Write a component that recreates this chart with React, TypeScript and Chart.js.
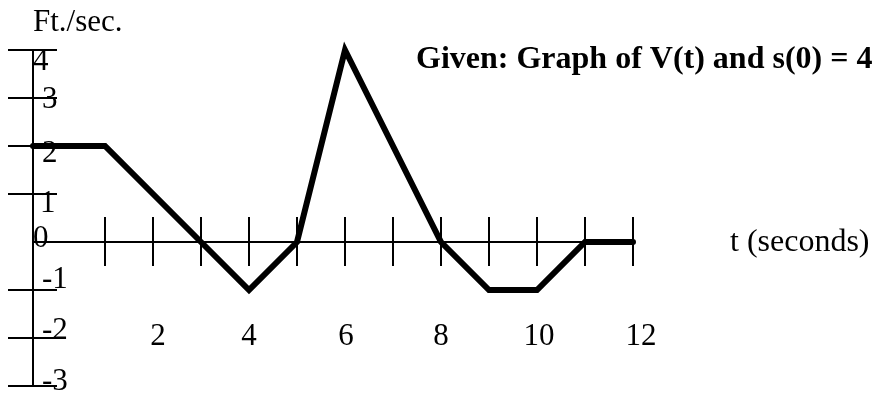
import React, { useEffect, useRef } from "react";
import { Chart, registerables } from "chart.js";

Chart.register(...registerables);

// ---- data ----
const T_VALUES = [-0.5, 1, 3, 4, 5, 6, 8, 9, 10, 11, 12];
const V_VALUES = [2, 2, 0, -1, 0, 4, 0, -1, -1, 0, 0];

const X_TICK_VALUES = [1, 2, 3, 4, 5, 6, 7, 8, 9, 10, 11, 12];
const X_LABEL_VALUES = [2, 4, 6, 8, 10, 12];
const X_LABEL_TEXTS = ["2", "4", "6", "8", "10", "12"];

const Y_TICK_VALUES = [4, 3, 2, 1, -1, -2, -3];
const Y_LABEL_VALUES = [4, 3, 2, 1, 0, -1, -2, -3];
const Y_LABEL_TEXTS = ["4", "3", "2", "1", "0", "-1", "-2", "-3"];

const TITLE_TEXT = "Given: Graph of V(t) and s(0) = 4";
const Y_AXIS_TITLE = "Ft./sec.";
const X_AXIS_TITLE = "t (seconds)";

// ---- styling (label nudges as in the hand-set original) ----
const FONT = '"Liberation Serif", "Times New Roman", serif';
const Y_LABEL_NUDGE = [
  [0, 9],
  [9, -1],
  [9, 5],
  [7, 7],
  [0, -6],
  [9, -13],
  [9, -10],
  [9, -7],
];
const X_LABEL_NUDGE = [5, 0, 1, 0, 2, 8];

const axesPlugin = {
  id: "handAxes",
  beforeDatasetsDraw(chart: any) {
    const ctx = chart.ctx as CanvasRenderingContext2D;
    const xs = chart.scales.x;
    const ys = chart.scales.y;
    const ax = xs.getPixelForValue(xs.min);
    const y0 = ys.getPixelForValue(0);
    const yTop = ys.getPixelForValue(Math.max(...Y_TICK_VALUES));
    const yBot = ys.getPixelForValue(Math.min(...Y_TICK_VALUES));
    const xEnd = xs.getPixelForValue(Math.max(...X_TICK_VALUES));
    ctx.save();
    ctx.strokeStyle = "#000";
    ctx.lineWidth = 2;
    ctx.lineCap = "butt";
    ctx.beginPath();
    // y axis
    ctx.moveTo(ax, yTop);
    ctx.lineTo(ax, yBot);
    // x axis
    ctx.moveTo(ax, y0);
    ctx.lineTo(xEnd, y0);
    // y ticks (crossing the axis)
    for (const v of Y_TICK_VALUES) {
      const py = ys.getPixelForValue(v);
      ctx.moveTo(ax - 25, py);
      ctx.lineTo(ax + 24, py);
    }
    // x ticks (crossing the axis)
    for (const t of X_TICK_VALUES) {
      const px = xs.getPixelForValue(t);
      ctx.moveTo(px, y0 - 25);
      ctx.lineTo(px, y0 + 24);
    }
    ctx.stroke();

    ctx.fillStyle = "#000";
    ctx.textBaseline = "alphabetic";
    ctx.font = `31px ${FONT}`;
    // y labels
    ctx.textAlign = "left";
    Y_LABEL_VALUES.forEach((v, i) => {
      const py = ys.getPixelForValue(v);
      const [dx, dy] = Y_LABEL_NUDGE[i];
      ctx.fillText(Y_LABEL_TEXTS[i], ax + dx, py + dy + 10.5);
    });
    // x labels
    ctx.textAlign = "center";
    X_LABEL_VALUES.forEach((t, i) => {
      const px = xs.getPixelForValue(t);
      ctx.fillText(X_LABEL_TEXTS[i], px + X_LABEL_NUDGE[i], y0 + 103);
    });
    // axis titles
    ctx.textAlign = "left";
    ctx.fillText(Y_AXIS_TITLE, ax, 31);
    ctx.font = `32px ${FONT}`;
    ctx.fillText(X_AXIS_TITLE, 730, y0 + 9);
    ctx.font = `bold 32px ${FONT}`;
    ctx.fillText(TITLE_TEXT, 416, 68);
    ctx.restore();
  },
};

export default function App() {
  const canvasRef = useRef<HTMLCanvasElement | null>(null);

  useEffect(() => {
    if (!canvasRef.current) return;
    const chart = new Chart(canvasRef.current, {
      type: "line",
      data: {
        datasets: [
          {
            data: T_VALUES.map((t, i) => ({ x: t, y: V_VALUES[i] })),
            borderColor: "#000",
            borderWidth: 6,
            pointRadius: 0,
            pointHoverRadius: 0,
            tension: 0,
            fill: false,
            borderJoinStyle: "miter",
            borderCapStyle: "round",
            clip: false as any,
          },
        ],
      },
      options: {
        animation: false,
        responsive: false,
        devicePixelRatio: 1,
        events: [],
        layout: { padding: { left: 33, right: 0, top: 2, bottom: 1 } },
        scales: {
          x: { type: "linear", min: -0.5, max: 17, display: false },
          y: { type: "linear", min: -3.125, max: 5, display: false },
        },
        plugins: {
          legend: { display: false },
          tooltip: { enabled: false },
          title: { display: false },
        },
      },
      plugins: [axesPlugin],
    });
    return () => chart.destroy();
  }, []);

  return (
    <div
      style={{
        position: "fixed",
        left: 0,
        top: 0,
        width: 873,
        height: 393,
        background: "#fff",
      }}
    >
      <canvas
        ref={canvasRef}
        width={873}
        height={393}
        style={{ width: 873, height: 393, display: "block" }}
      />
    </div>
  );
}
